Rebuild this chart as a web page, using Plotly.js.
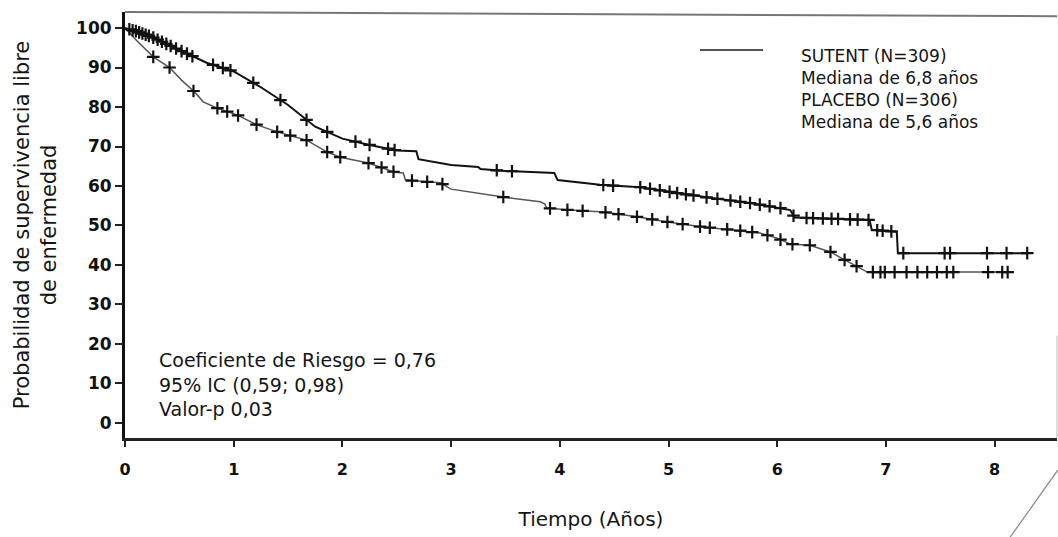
<!DOCTYPE html>
<html>
<head>
<meta charset="utf-8">
<script src="https://cdn.plot.ly/plotly-3.0.1.min.js"></script>
<style>html,body{margin:0;padding:0;background:#fff;}#chart{width:1058px;height:537px;}</style>
</head>
<body>
<div id="chart"></div>
<script>
// ---- data ----
var sutentTime = [0, 0.1, 0.25, 0.5, 0.75, 1.0, 1.25, 1.5, 1.75, 2.0, 2.25, 2.5, 2.68, 2.7, 3.0, 3.25, 3.27, 3.5, 3.95, 3.98, 4.37, 4.74, 5.01, 5.38, 5.75, 6.03, 6.12, 6.16, 6.85, 6.87, 7.1, 7.11, 8.3];
var sutentSurv = [100, 99.2, 97.7, 94.4, 91.2, 89.0, 85.0, 80.5, 75.0, 72.0, 70.4, 69.0, 68.8, 66.8, 65.3, 64.8, 64.3, 63.8, 63.3, 61.5, 60.3, 59.7, 58.5, 57.0, 55.7, 54.4, 53.9, 52.0, 51.4, 48.9, 48.4, 43.0, 43.0];
var placeboTime = [0, 0.1, 0.26, 0.41, 0.52, 0.64, 0.72, 0.85, 1.03, 1.22, 1.4, 1.67, 1.86, 1.98, 2.24, 2.37, 2.48, 2.56, 2.58, 2.9, 3.0, 3.48, 3.82, 3.86, 3.88, 4.09, 4.4, 4.71, 4.99, 5.32, 5.59, 5.84, 6.0, 6.12, 6.3, 6.49, 6.62, 6.73, 6.83, 8.17];
var placeboSurv = [100, 97.0, 92.7, 90.0, 86.8, 83.8, 81.3, 79.7, 78.0, 75.4, 73.7, 71.6, 68.6, 67.3, 65.8, 64.6, 63.5, 63.3, 61.5, 60.8, 59.2, 57.2, 56.0, 55.5, 54.4, 53.9, 53.4, 52.2, 50.9, 49.6, 48.9, 48.1, 46.8, 45.3, 45.0, 43.3, 41.3, 39.7, 38.2, 38.2];
var sutentCensor = [0.04, 0.07, 0.1, 0.13, 0.16, 0.19, 0.22, 0.26, 0.3, 0.34, 0.38, 0.42, 0.47, 0.52, 0.57, 0.62, 0.81, 0.9, 0.97, 1.18, 1.43, 1.67, 1.86, 2.12, 2.25, 2.42, 2.48, 3.42, 3.56, 4.4, 4.49, 4.74, 4.83, 4.92, 5.01, 5.08, 5.16, 5.23, 5.35, 5.45, 5.57, 5.66, 5.75, 5.84, 5.93, 6.03, 6.15, 6.27, 6.33, 6.42, 6.5, 6.56, 6.67, 6.74, 6.84, 6.92, 6.97, 7.05, 7.16, 7.54, 7.59, 7.93, 8.11, 8.3];
var placeboCensor = [0.26, 0.41, 0.63, 0.85, 0.94, 1.04, 1.21, 1.4, 1.52, 1.67, 1.86, 1.98, 2.24, 2.36, 2.47, 2.64, 2.78, 2.92, 3.48, 3.91, 4.07, 4.21, 4.42, 4.54, 4.71, 4.85, 4.99, 5.13, 5.29, 5.38, 5.54, 5.66, 5.77, 5.91, 6.03, 6.14, 6.3, 6.49, 6.62, 6.73, 6.88, 6.95, 6.99, 7.08, 7.19, 7.29, 7.38, 7.47, 7.56, 7.62, 7.94, 8.07, 8.12];
var yTickVals = [0, 10, 20, 30, 40, 50, 60, 70, 80, 90, 100];
var xTickVals = [0, 1, 2, 3, 4, 5, 6, 7, 8];
var legendLines = ['SUTENT (N=309)', 'Mediana de 6,8 años', 'PLACEBO (N=306)', 'Mediana de 5,6 años'];
var statsLines = ['Coeficiente de Riesgo = 0,76', '95% IC (0,59; 0,98)', 'Valor-p 0,03'];

// survival value at a censoring time
function survAt(ts, ss, t) {
  for (var i = ts.length - 1; i >= 0; i--) {
    if (ts[i] <= t) {
      if (i === ts.length - 1) return ss[i];
      var f = (t - ts[i]) / (ts[i + 1] - ts[i]);
      return ss[i] + f * (ss[i + 1] - ss[i]);
    }
  }
  return ss[0];
}

var txt = '#151515';
var mk = {symbol: 'cross-thin', size: 9, line: {width: 2.2, color: '#111'}};

var traces = [
  {x: sutentTime, y: sutentSurv, mode: 'lines', name: 'SUTENT (N=309)', line: {color: '#111', width: 2}, showlegend: false, hoverinfo: 'skip'},
  {x: placeboTime, y: placeboSurv, mode: 'lines', name: 'PLACEBO (N=306)', line: {color: '#555', width: 1.5}, showlegend: false, hoverinfo: 'skip'},
  {x: sutentCensor, y: sutentCensor.map(function (t) { return survAt(sutentTime, sutentSurv, t); }), mode: 'markers', name: 'SUTENT censurado', marker: mk, showlegend: false, hoverinfo: 'skip'},
  {x: placeboCensor, y: placeboCensor.map(function (t) { return survAt(placeboTime, placeboSurv, t); }), mode: 'markers', name: 'PLACEBO censurado', marker: mk, showlegend: false, hoverinfo: 'skip'}
];

var annotations = [
  {x: 6.2, y: 96.0, xref: 'x', yref: 'y', text: legendLines.join('<br>'), showarrow: false, xanchor: 'left', yanchor: 'top', align: 'left',
   font: {family: 'DejaVu Sans', size: 17, color: txt}},
  {x: 0.29, y: 19.3, xref: 'x', yref: 'y', text: statsLines.join('<br>'), showarrow: false, xanchor: 'left', yanchor: 'top', align: 'left',
   font: {family: 'DejaVu Sans', size: 19, color: txt}}
];

var layout = {
  width: 1058, height: 537,
  margin: {l: 125, r: 1, t: 12, b: 99},
  paper_bgcolor: '#fff', plot_bgcolor: '#fff',
  showlegend: false,
  xaxis: {
    range: [0, 8.574], tickvals: xTickVals, ticktext: xTickVals.map(String),
    showline: true, linecolor: '#222', linewidth: 3, ticks: 'outside', ticklen: 6, tickwidth: 2, tickcolor: '#222',
    showgrid: false, zeroline: false, ticklabelstandoff: 9,
    tickfont: {family: 'DejaVu Sans', size: 16, weight: 'bold', color: '#111'},
    title: {text: 'Tiempo (Años)', font: {family: 'DejaVu Sans', size: 20, color: txt}, standoff: 34}
  },
  yaxis: {
    range: [-3.8, 104.05], tickvals: yTickVals,
    showline: true, linecolor: '#111', linewidth: 3, ticks: 'outside', ticklen: 7, tickwidth: 2, tickcolor: '#222',
    showgrid: false, zeroline: false,
    tickfont: {family: 'DejaVu Sans', size: 17, weight: 'bold', color: '#111'},
    title: {text: 'Probabilidad de supervivencia libre<br>de enfermedad', font: {family: 'DejaVu Sans', size: 21, color: txt}, standoff: 14}
  },
  shapes: [
    {type: 'line', xref: 'paper', yref: 'paper', x0: 0, x1: 1, y0: 1, y1: 0.99, line: {color: '#777', width: 2}},
    {type: 'line', xref: 'x', yref: 'y', x0: 5.29, x1: 5.87, y0: 94.4, y1: 94.4, line: {color: '#555', width: 2}},
    {type: 'line', xref: 'paper', yref: 'paper', x0: 1, x1: 1, y0: 0, y1: 0.24, line: {color: '#bbb', width: 1}},
    {type: 'line', xref: 'paper', yref: 'paper', x0: 1.001, x1: 0.949, y0: -0.075, y1: -0.235, line: {color: '#888', width: 1.2}}
  ],
  annotations: annotations
};

Plotly.newPlot('chart', traces, layout, {displayModeBar: false, staticPlot: true});
</script>
</body>
</html>
